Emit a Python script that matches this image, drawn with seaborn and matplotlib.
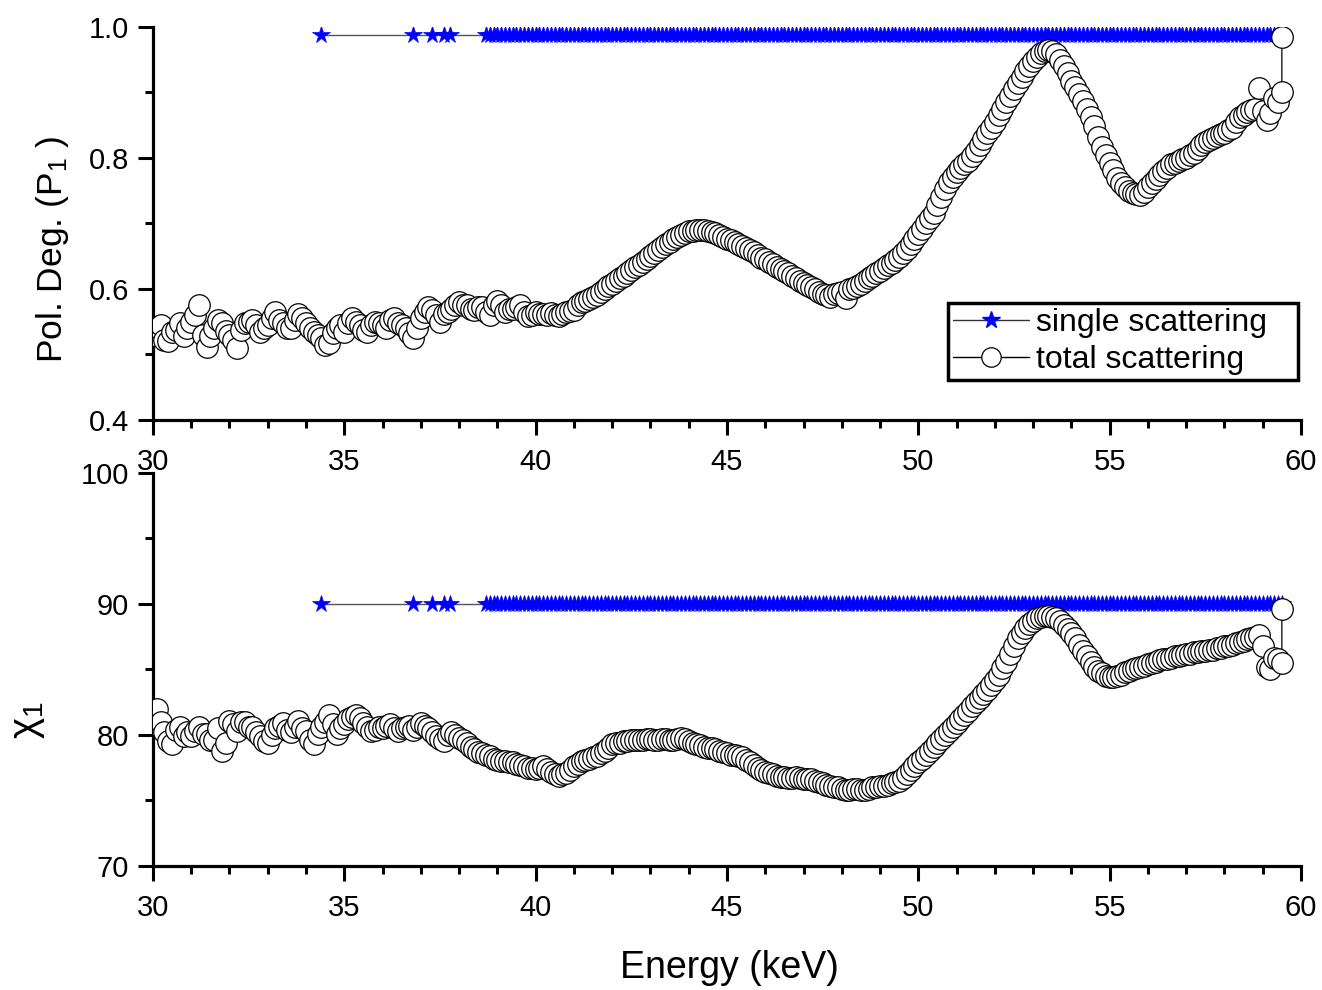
import numpy as np
import pandas as pd
import matplotlib
matplotlib.use("Agg")
import matplotlib.pyplot as plt
import seaborn as sns
from matplotlib.ticker import MultipleLocator
from matplotlib.lines import Line2D

# ---------------- data ----------------
energy_total = [
    30.0, 30.1, 30.2, 30.3, 30.4, 30.5, 30.6, 30.7, 30.8, 30.9,
    31.0, 31.1, 31.2, 31.3, 31.4, 31.5, 31.6, 31.7, 31.8, 31.9,
    32.0, 32.1, 32.2, 32.3, 32.4, 32.5, 32.6, 32.7, 32.8, 32.9,
    33.0, 33.1, 33.2, 33.3, 33.4, 33.5, 33.6, 33.7, 33.8, 33.9,
    34.0, 34.1, 34.2, 34.3, 34.4, 34.5, 34.6, 34.7, 34.8, 34.9,
    35.0, 35.1, 35.2, 35.3, 35.4, 35.5, 35.6, 35.7, 35.8, 35.9,
    36.0, 36.1, 36.2, 36.3, 36.4, 36.5, 36.6, 36.7, 36.8, 36.9,
    37.0, 37.1, 37.2, 37.3, 37.4, 37.5, 37.6, 37.7, 37.8, 37.9,
    38.0, 38.1, 38.2, 38.3, 38.4, 38.5, 38.6, 38.7, 38.8, 38.9,
    39.0, 39.1, 39.2, 39.3, 39.4, 39.5, 39.6, 39.7, 39.8, 39.9,
    40.0, 40.1, 40.2, 40.3, 40.4, 40.5, 40.6, 40.7, 40.8, 40.9,
    41.0, 41.1, 41.2, 41.3, 41.4, 41.5, 41.6, 41.7, 41.8, 41.9,
    42.0, 42.1, 42.2, 42.3, 42.4, 42.5, 42.6, 42.7, 42.8, 42.9,
    43.0, 43.1, 43.2, 43.3, 43.4, 43.5, 43.6, 43.7, 43.8, 43.9,
    44.0, 44.1, 44.2, 44.3, 44.4, 44.5, 44.6, 44.7, 44.8, 44.9,
    45.0, 45.1, 45.2, 45.3, 45.4, 45.5, 45.6, 45.7, 45.8, 45.9,
    46.0, 46.1, 46.2, 46.3, 46.4, 46.5, 46.6, 46.7, 46.8, 46.9,
    47.0, 47.1, 47.2, 47.3, 47.4, 47.5, 47.6, 47.7, 47.8, 47.9,
    48.0, 48.1, 48.2, 48.3, 48.4, 48.5, 48.6, 48.7, 48.8, 48.9,
    49.0, 49.1, 49.2, 49.3, 49.4, 49.5, 49.6, 49.7, 49.8, 49.9,
    50.0, 50.1, 50.2, 50.3, 50.4, 50.5, 50.6, 50.7, 50.8, 50.9,
    51.0, 51.1, 51.2, 51.3, 51.4, 51.5, 51.6, 51.7, 51.8, 51.9,
    52.0, 52.1, 52.2, 52.3, 52.4, 52.5, 52.6, 52.7, 52.8, 52.9,
    53.0, 53.1, 53.2, 53.3, 53.4, 53.5, 53.6, 53.7, 53.8, 53.9,
    54.0, 54.1, 54.2, 54.3, 54.4, 54.5, 54.6, 54.7, 54.8, 54.9,
    55.0, 55.1, 55.2, 55.3, 55.4, 55.5, 55.6, 55.7, 55.8, 55.9,
    56.0, 56.1, 56.2, 56.3, 56.4, 56.5, 56.6, 56.7, 56.8, 56.9,
    57.0, 57.1, 57.2, 57.3, 57.4, 57.5, 57.6, 57.7, 57.8, 57.9,
    58.0, 58.1, 58.2, 58.3, 58.4, 58.5, 58.6, 58.7, 58.8, 58.9,
    59.0, 59.1, 59.2, 59.3, 59.4, 59.5, 59.5,
]

pol_total = [
    0.530, 0.542, 0.545, 0.522, 0.520, 0.535, 0.538, 0.548, 0.528, 0.540,
    0.550, 0.560, 0.575, 0.530, 0.512, 0.528, 0.540, 0.552, 0.548, 0.536,
    0.530, 0.522, 0.510, 0.538, 0.548, 0.550, 0.552, 0.545, 0.535, 0.540,
    0.545, 0.555, 0.565, 0.552, 0.548, 0.540, 0.540, 0.552, 0.562, 0.555,
    0.548, 0.540, 0.535, 0.530, 0.525, 0.515, 0.518, 0.532, 0.540, 0.545,
    0.535, 0.548, 0.555, 0.550, 0.545, 0.538, 0.535, 0.545, 0.550, 0.548,
    0.545, 0.540, 0.552, 0.555, 0.548, 0.545, 0.540, 0.532, 0.525, 0.540,
    0.555, 0.565, 0.572, 0.568, 0.560, 0.550, 0.562, 0.565, 0.570, 0.575,
    0.580, 0.576, 0.575, 0.570, 0.568, 0.572, 0.572, 0.565, 0.560, 0.575,
    0.582, 0.575, 0.565, 0.570, 0.570, 0.572, 0.575, 0.565, 0.558, 0.560,
    0.565, 0.562, 0.562, 0.560, 0.563, 0.560, 0.558, 0.562, 0.565, 0.566,
    0.568, 0.575, 0.580, 0.582, 0.585, 0.588, 0.590, 0.595, 0.600, 0.604,
    0.608, 0.612, 0.616, 0.620, 0.625, 0.629, 0.633, 0.637, 0.641, 0.645,
    0.650, 0.655, 0.660, 0.664, 0.668, 0.672, 0.676, 0.680, 0.683, 0.686,
    0.688, 0.689, 0.690, 0.690, 0.690, 0.689, 0.687, 0.685, 0.683, 0.680,
    0.677, 0.674, 0.671, 0.668, 0.665, 0.662, 0.659, 0.656, 0.652, 0.648,
    0.645, 0.641, 0.638, 0.634, 0.631, 0.627, 0.624, 0.620, 0.616, 0.612,
    0.609, 0.606, 0.603, 0.600, 0.596, 0.593, 0.590, 0.588, 0.592, 0.594,
    0.596, 0.586, 0.600, 0.602, 0.605, 0.608, 0.612, 0.616, 0.620, 0.624,
    0.628, 0.632, 0.636, 0.640, 0.644, 0.649, 0.655, 0.661, 0.668, 0.676,
    0.684, 0.692, 0.700, 0.708, 0.716, 0.728, 0.740, 0.752, 0.764, 0.771,
    0.778, 0.784, 0.790, 0.796, 0.803, 0.811, 0.820, 0.829, 0.838, 0.846,
    0.855, 0.865, 0.875, 0.885, 0.895, 0.905, 0.914, 0.923, 0.932, 0.940,
    0.948, 0.954, 0.960, 0.963, 0.965, 0.963, 0.958, 0.950, 0.940, 0.930,
    0.918, 0.908, 0.898, 0.887, 0.875, 0.862, 0.848, 0.832, 0.816, 0.804,
    0.792, 0.781, 0.770, 0.762, 0.755, 0.750, 0.746, 0.745, 0.744, 0.748,
    0.755, 0.762, 0.768, 0.774, 0.780, 0.785, 0.790, 0.793, 0.795, 0.798,
    0.800, 0.804, 0.808, 0.814, 0.820, 0.824, 0.828, 0.830, 0.833, 0.836,
    0.838, 0.842, 0.845, 0.855, 0.862, 0.866, 0.870, 0.873, 0.875, 0.907,
    0.872, 0.858, 0.868, 0.892, 0.885, 0.900, 0.985,
]

chi_total = [
    80.8, 82.0, 81.0, 80.2, 79.5, 79.3, 80.4, 80.6, 79.9, 80.2,
    79.9, 80.3, 80.6, 80.1, 80.1, 79.6, 79.6, 80.5, 78.8, 79.4,
    81.1, 80.8, 80.3, 81.0, 81.0, 80.6, 80.6, 80.2, 79.9, 79.5,
    79.4, 80.0, 80.5, 80.7, 80.9, 80.4, 80.2, 80.6, 81.1, 80.5,
    80.3, 79.6, 79.3, 80.1, 80.6, 81.0, 81.5, 80.8, 80.1, 80.5,
    80.8, 81.2, 81.4, 81.5, 81.3, 80.9, 80.6, 80.3, 80.4, 80.6,
    80.5, 80.7, 80.8, 80.5, 80.3, 80.5, 80.6, 80.7, 80.4, 80.6,
    80.9, 80.7, 80.5, 80.2, 79.9, 79.7, 79.5, 80.0, 80.2, 80.0,
    79.8, 79.6, 79.4, 79.1, 78.9, 78.7, 78.6, 78.5, 78.4, 78.2,
    78.1, 78.0, 78.0, 77.9, 77.9, 77.8, 77.7, 77.6, 77.5, 77.5,
    77.4, 77.5, 77.6, 77.4, 77.2, 77.0, 76.9, 77.0, 77.1, 77.3,
    77.6, 77.8, 78.0, 78.1, 78.2, 78.3, 78.4, 78.6, 78.8, 79.0,
    79.3, 79.4, 79.4, 79.5, 79.5, 79.6, 79.6, 79.6, 79.6, 79.7,
    79.7, 79.6, 79.6, 79.7, 79.7, 79.6, 79.6, 79.7, 79.8, 79.7,
    79.5, 79.4, 79.3, 79.2, 79.1, 79.0, 79.0, 78.9, 78.8, 78.7,
    78.6, 78.5, 78.5, 78.4, 78.3, 78.1, 77.9, 77.7, 77.5, 77.3,
    77.2, 77.1, 77.0, 76.9, 76.8, 76.8, 76.7, 76.7, 76.8, 76.7,
    76.6, 76.6, 76.6, 76.5, 76.4, 76.3, 76.2, 76.1, 76.0, 76.0,
    75.9, 75.8, 75.8, 75.9, 75.9, 75.8, 75.8, 75.9, 76.0, 76.0,
    76.1, 76.1, 76.2, 76.3, 76.4, 76.5, 76.7, 77.0, 77.3, 77.6,
    77.9, 78.2, 78.5, 78.8, 79.1, 79.4, 79.7, 80.0, 80.3, 80.6,
    80.9, 81.2, 81.5, 81.8, 82.2, 82.5, 82.8, 83.1, 83.4, 83.8,
    84.2, 84.6, 85.1, 85.6, 86.2, 86.8, 87.4, 87.8, 88.2, 88.5,
    88.7, 88.9, 89.0, 89.1, 89.1, 89.0, 88.9, 88.7, 88.4, 88.1,
    87.8, 87.4, 86.9, 86.4, 86.0, 85.6, 85.2, 84.9, 84.7, 84.5,
    84.4, 84.4, 84.5, 84.6, 84.8, 84.9, 85.0, 85.1, 85.2, 85.3,
    85.4, 85.5, 85.6, 85.7, 85.8, 85.8, 85.9, 86.0, 86.0, 86.1,
    86.2, 86.2, 86.3, 86.3, 86.4, 86.4, 86.5, 86.5, 86.6, 86.6,
    86.8, 86.8, 86.9, 87.0, 87.1, 87.2, 87.3, 87.4, 87.5, 87.6,
    86.8, 85.2, 85.0, 85.9, 85.8, 85.5, 89.6,
]

# single-scattering energies: a few isolated points, then a dense 0.1 keV grid
energy_single_sparse = [34.4, 36.8, 37.3, 37.6, 37.75, 38.7]
energy_single_dense = list(np.round(np.arange(38.8, 59.51, 0.1), 2))
energy_single = energy_single_sparse + energy_single_dense
pol_single_value = 0.988
chi_single_value = 90.0

labels = ["single scattering   ", "total scattering"]

df_single = pd.DataFrame({
    "E": energy_single,
    "P": [pol_single_value] * len(energy_single),
    "chi": [chi_single_value] * len(energy_single),
})
df_total = pd.DataFrame({"E": energy_total, "P": pol_total, "chi": chi_total})

# ---------------- style ----------------
sns.set_theme(style="ticks")
plt.rcParams["font.family"] = ["Liberation Sans", "DejaVu Sans"]
plt.rcParams["mathtext.default"] = "regular"
plt.rcParams["text.color"] = "black"
plt.rcParams["axes.labelcolor"] = "black"
plt.rcParams["xtick.color"] = "black"
plt.rcParams["ytick.color"] = "black"

fig = plt.figure(figsize=(13.22, 9.9), dpi=100)
ax1 = fig.add_axes([0.1157, 0.5758, 0.8684, 0.3970])
ax2 = fig.add_axes([0.1157, 0.1253, 0.8684, 0.3970])

single_kw = dict(estimator=None, sort=False, errorbar=None, legend=False,
                 color="#555555", linewidth=1.0, marker="*", markersize=13,
                 markerfacecolor="#0000FF", markeredgecolor="#0000FF",
                 markeredgewidth=0.5, zorder=2)
total_kw = dict(estimator=None, sort=False, errorbar=None, legend=False,
                color="black", linewidth=0.9, marker="o", markersize=15.5,
                markerfacecolor="white", markeredgecolor="black",
                markeredgewidth=0.9, zorder=3)

for ax, col in [(ax1, "P"), (ax2, "chi")]:
    sns.lineplot(data=df_single, x="E", y=col, ax=ax, **single_kw)
    sns.lineplot(data=df_total, x="E", y=col, ax=ax, **total_kw)
    ax.set_xlim(30, 60)
    ax.xaxis.set_major_locator(MultipleLocator(5))
    ax.xaxis.set_minor_locator(MultipleLocator(1))
    for s in ["top", "right"]:
        ax.spines[s].set_visible(False)
    for s in ["left", "bottom"]:
        ax.spines[s].set_linewidth(2.3)
        ax.spines[s].set_color("black")
    ax.tick_params(which="major", direction="out", length=11, width=2.2,
                   labelsize=21, color="black", labelcolor="black")
    ax.tick_params(axis="x", which="major", pad=9)
    ax.tick_params(axis="y", which="major", pad=6)
    ax.tick_params(which="minor", direction="out", length=5.5, width=2.2,
                   color="black")
    ax.set_facecolor("white")
    ax.set_xlabel("")

ax1.set_ylim(0.4, 1.0)
ax1.yaxis.set_major_locator(MultipleLocator(0.2))
ax1.yaxis.set_minor_locator(MultipleLocator(0.1))
ax1.set_ylabel("Pol. Deg. (P$_1$ )", fontsize=25.5)
ax1.yaxis.set_label_coords(-0.071, 0.435)

ax2.set_ylim(70, 100)
ax2.yaxis.set_major_locator(MultipleLocator(10))
ax2.yaxis.set_minor_locator(MultipleLocator(5))
ax2.set_ylabel("χ$_1$", fontsize=29)
ax2.yaxis.set_label_coords(-0.092, 0.37)
ax2.set_xlabel("Energy (keV)", fontsize=27)
ax2.xaxis.set_label_coords(0.502, -0.215)

handles = [
    Line2D([], [], color="#333333", linewidth=1.0, marker="*", markersize=13,
           markerfacecolor="#0000FF", markeredgecolor="#0000FF"),
    Line2D([], [], color="black", linewidth=1.0, marker="o", markersize=14,
           markerfacecolor="white", markeredgecolor="black", markeredgewidth=0.9),
]
leg = ax1.legend(handles, labels, loc="lower right", bbox_to_anchor=(0.9974, 0.102),
                 fontsize=23, frameon=True, fancybox=False, edgecolor="black",
                 framealpha=1, borderpad=0.15, handlelength=2.4,
                 handletextpad=0.2, labelspacing=0.22, borderaxespad=0)
leg.get_frame().set_linewidth(2.5)

fig.savefig("out.png", dpi=100, facecolor="white")
